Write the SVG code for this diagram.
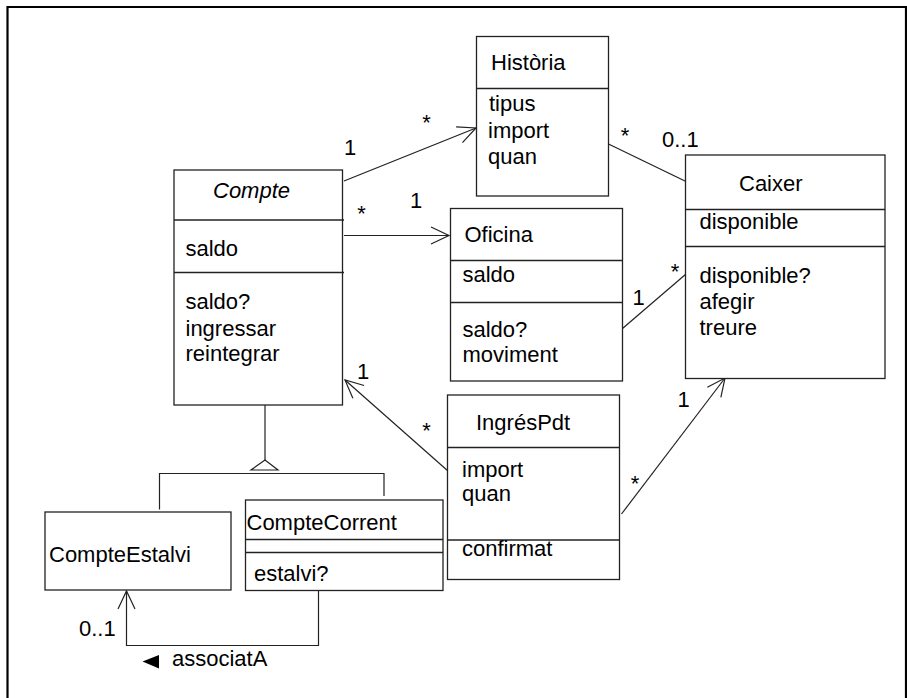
<svg xmlns="http://www.w3.org/2000/svg" width="907" height="698" viewBox="0 0 907 698">
  <style>
    text { font-family: "Liberation Sans", Arial, sans-serif; font-size: 22px; fill: #000; }
    .box { fill: #fff; stroke: #222; stroke-width: 1.3; }
    .sep { stroke: #222; stroke-width: 1.3; }
    .conn { fill: none; stroke: #222; stroke-width: 1.2; }
    .it { font-style: italic; }
  </style>
  <defs>
    <marker id="open" markerUnits="userSpaceOnUse" markerWidth="24" markerHeight="24" viewBox="-20 -12 24 24" refX="0" refY="0" orient="auto" overflow="visible">
      <path d="M -18 -8.5 L 0 0 L -18 8.5" fill="none" stroke="#222" stroke-width="1.2"/>
    </marker>
  </defs>

  <rect width="907" height="698" fill="#fff"/>
  <!-- frame -->
  <path d="M 7.5 698 V 7 H 906 V 698" fill="none" stroke="#000" stroke-width="2.2"/>

  <!-- connectors -->
  <g id="connectors">
    <line class="conn" x1="344" y1="181" x2="476" y2="128" marker-end="url(#open)"/>
    <line class="conn" x1="344" y1="235.5" x2="449" y2="235.5" marker-end="url(#open)"/>
    <line class="conn" x1="448" y1="471" x2="345" y2="380" marker-end="url(#open)"/>
    <line class="conn" x1="621.5" y1="514" x2="725" y2="378" marker-end="url(#open)"/>
    <line class="conn" x1="608.5" y1="144" x2="686" y2="181.5"/>
    <line class="conn" x1="622.5" y1="328.5" x2="686" y2="274"/>
    <!-- generalization -->
    <line class="conn" x1="265" y1="405" x2="265" y2="460"/>
    <polygon points="265,460 251,470 278,470" fill="#fff" stroke="#222" stroke-width="1.2"/>
    <polyline class="conn" points="159.5,509.5 159.5,473.5 384,473.5 384,496"/>
    <!-- associatA -->
    <polyline class="conn" points="318.5,591 318.5,645.5 126.5,645.5 126.5,591" marker-end="url(#open)"/>
    <polygon points="142.5,661.5 159,655 159,668.5" fill="#000"/>
    <text x="172" y="666">associatA</text>
    <!-- multiplicities -->
    <text x="350" y="155" text-anchor="middle">1</text>
    <text x="426.5" y="129.5" text-anchor="middle">*</text>
    <text x="416" y="208" text-anchor="middle">1</text>
    <text x="361.5" y="221" text-anchor="middle">*</text>
    <text x="625" y="142.5" text-anchor="middle">*</text>
    <text x="662" y="147">0..1</text>
    <text x="675" y="278.5" text-anchor="middle">*</text>
    <text x="638.5" y="305" text-anchor="middle">1</text>
    <text x="363" y="379" text-anchor="middle">1</text>
    <text x="426.5" y="437.5" text-anchor="middle">*</text>
    <text x="683.5" y="406.5" text-anchor="middle">1</text>
    <text x="635" y="491" text-anchor="middle">*</text>
    <text x="79" y="636">0..1</text>
  </g>

  <g id="historia">
    <rect class="box" x="476.5" y="36.5" width="132" height="159.5"/>
    <line class="sep" x1="476.5" y1="88.5" x2="608.5" y2="88.5"/>
    <text x="491" y="70">Història</text>
    <text x="489" y="111">tipus</text>
    <text x="488" y="138">import</text>
    <text x="488" y="164">quan</text>
  </g>

  <g id="compte">
    <rect class="box" x="174" y="170" width="168.5" height="235"/>
    <line class="sep" x1="174" y1="220" x2="344" y2="220"/>
    <line class="sep" x1="174" y1="272.5" x2="344" y2="272.5"/>
    <text class="it" x="213" y="198">Compte</text>
    <text x="185.5" y="256">saldo</text>
    <text x="185.5" y="309">saldo?</text>
    <text x="185.5" y="335.5">ingressar</text>
    <text x="185.5" y="361">reintegrar</text>
  </g>

  <g id="oficina">
    <rect class="box" x="450.5" y="208.5" width="172" height="172.5"/>
    <line class="sep" x1="450.5" y1="260.5" x2="622.5" y2="260.5"/>
    <line class="sep" x1="450.5" y1="302.5" x2="622.5" y2="302.5"/>
    <text x="464.5" y="242">Oficina</text>
    <text x="462.5" y="282">saldo</text>
    <text x="462.5" y="336.5">saldo?</text>
    <text x="462.5" y="361.5">moviment</text>
  </g>

  <g id="caixer">
    <rect class="box" x="685.5" y="155" width="199.5" height="223.5"/>
    <line class="sep" x1="685.5" y1="209.5" x2="885" y2="209.5"/>
    <line class="sep" x1="685.5" y1="246.5" x2="885" y2="246.5"/>
    <text x="739" y="190.5">Caixer</text>
    <text x="699.5" y="229">disponible</text>
    <text x="699.5" y="282.5">disponible?</text>
    <text x="699.5" y="308.5">afegir</text>
    <text x="699.5" y="335">treure</text>
  </g>

  <g id="ingres-pdt">
    <rect class="box" x="447.5" y="395" width="172" height="184.5"/>
    <line class="sep" x1="447.5" y1="447.5" x2="619.5" y2="447.5"/>
    <line class="sep" x1="447.5" y1="540" x2="619.5" y2="540"/>
    <text x="476" y="429.5">IngrésPdt</text>
    <text x="462" y="476.5">import</text>
    <text x="462" y="501">quan</text>
    <text x="462" y="556">confirmat</text>
  </g>

  <g id="compte-estalvi">
    <rect class="box" x="45" y="512" width="186" height="78"/>
    <text x="49" y="561.5">CompteEstalvi</text>
  </g>

  <g id="compte-corrent">
    <rect class="box" x="245.5" y="500" width="197.5" height="90.5"/>
    <line class="sep" x1="245.5" y1="539.5" x2="443" y2="539.5"/>
    <line class="sep" x1="245.5" y1="552.5" x2="443" y2="552.5"/>
    <text x="246.5" y="529.5">CompteCorrent</text>
    <text x="254" y="581">estalvi?</text>
  </g>
</svg>
